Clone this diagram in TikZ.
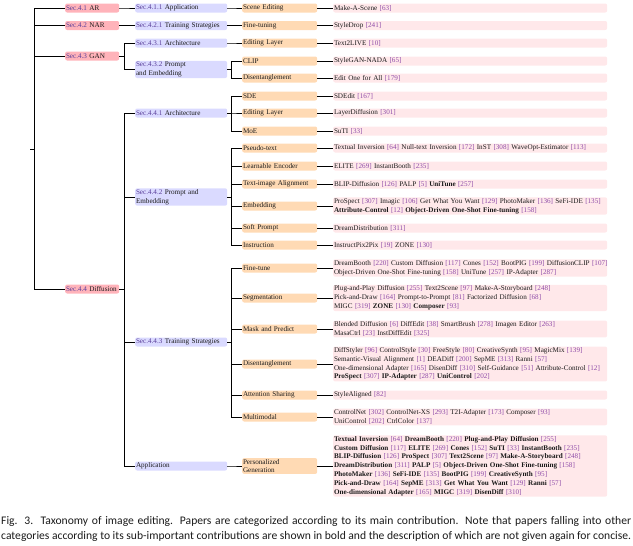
\documentclass[tikz,border=0pt]{standalone}
\usepackage{fontspec}
\setmainfont{Liberation Serif}
\newfontfamily\capfont{Carlito}
\usetikzlibrary{positioning}
\definecolor{lone}{HTML}{FFB3BA}
\definecolor{ltwo}{HTML}{DADAFF}
\definecolor{lthree}{HTML}{FFDAB4}
\definecolor{lfour}{HTML}{FFE8EA}
\definecolor{seccol}{HTML}{5A3F9A}
\definecolor{citecol}{HTML}{8E4BA8}
\definecolor{txt}{HTML}{1A1A1A}
\newcommand{\sect}[1]{{\color{seccol}#1}}
\newcommand{\cit}[1]{{\color{citecol}[#1]}}
\tikzset{
  box/.style={rectangle, rounded corners=2pt, inner xsep=0.8pt, inner ysep=1pt,
    minimum height=9pt, anchor=west, align=left, text=txt,
    font=\fontsize{7.15}{8.8}\selectfont},
  lvone/.style={box, fill=lone, text width=52.4pt},
  lvtwo/.style={box, fill=ltwo, text width=90.4pt},
  lvthree/.style={box, fill=lthree, text width=73.4pt},
  lvfour/.style={box, fill=lfour, text width=272.4pt},
  conn/.style={draw=black, line width=0.9pt},
  captext/.style={anchor=base west, inner sep=0pt, text=txt, font=\capfont\fontsize{11.6}{13}\selectfont}
}
\begin{document}
\begin{tikzpicture}[x=1pt,y=-1pt]
\useasboundingbox (0,0) rectangle (633,546);
\coordinate (root) at (30,149);
% level 1
\node[lvone] (a1) at (65,8) {\sect{Sec.4.1} AR};
\node[lvone] (a2) at (65,25.5) {\sect{Sec.4.2} NAR};
\node[lvone] (a3) at (65,56) {\sect{Sec.4.3} GAN};
\node[lvone] (a4) at (65,289) {\sect{Sec.4.4} Diffusion};
% level 2
\node[lvtwo] (b1) at (135,8) {\sect{Sec.4.1.1} Application};
\node[lvtwo] (b2) at (135,25.5) {\sect{Sec.4.2.1} Training Strategies};
\node[lvtwo] (b3) at (135,43) {\sect{Sec.4.3.1} Architecture};
\node[lvtwo] (b4) at (135,69.5) {\sect{Sec.4.3.2} Prompt\\and Embedding};
\node[lvtwo] (b5) at (135,113) {\sect{Sec.4.4.1} Architecture};
\node[lvtwo] (b6) at (135,197) {\sect{Sec.4.4.2} Prompt and\\Embedding};
\node[lvtwo] (b7) at (135,342) {\sect{Sec.4.4.3} Training Strategies};
\node[lvtwo] (b8) at (135,466) {Application};
% level 3
\node[lvthree] (c1) at (242,8) {Scene Editing};
\node[lvthree] (c2) at (242,25.5) {Fine-tuning};
\node[lvthree] (c3) at (242,43) {Editing Layer};
\node[lvthree] (c4) at (242,61) {CLIP};
\node[lvthree] (c5) at (242,78) {Disentanglement};
\node[lvthree] (c6) at (242,96) {SDE};
\node[lvthree] (c7) at (242,113) {Editing Layer};
\node[lvthree] (c8) at (242,131) {MoE};
\node[lvthree] (c9) at (242,148) {Pseudo-text};
\node[lvthree] (c10) at (242,166) {Learnable Encoder};
\node[lvthree] (c11) at (242,184) {Text-image Alignment};
\node[lvthree] (c12) at (242,206) {Embedding};
\node[lvthree] (c13) at (242,228) {Soft Prompt};
\node[lvthree] (c14) at (242,245) {Instruction};
\node[lvthree] (c15) at (242,268) {Fine-tune};
\node[lvthree] (c16) at (242,298) {Segmentation};
\node[lvthree] (c17) at (242,329) {Mask and Predict};
\node[lvthree] (c18) at (242,364) {Disentanglement};
\node[lvthree] (c19) at (242,395) {Attention Sharing};
\node[lvthree] (c20) at (242,417) {Multimodal};
\node[lvthree] (c21) at (242,466) {Personalized\\Generation};
% level 4
\node[lvfour] (d1) at (333,8) {Make-A-Scene \cit{63}};
\node[lvfour] (d2) at (333,25.5) {StyleDrop \cit{241}};
\node[lvfour] (d3) at (333,43) {Text2LIVE \cit{10}};
\node[lvfour] (d4) at (333,61) {StyleGAN-NADA \cit{65}};
\node[lvfour] (d5) at (333,78) {Edit One for All \cit{179}};
\node[lvfour] (d6) at (333,96) {SDEdit \cit{167}};
\node[lvfour] (d7) at (333,113) {LayerDiffusion \cit{301}};
\node[lvfour] (d8) at (333,131) {SuTI \cit{33}};
\node[lvfour] (d9) at (333,148) {Textual Inversion \cit{64} Null-text Inversion \cit{172} InST \cit{308} WaveOpt-Estimator \cit{113}};
\node[lvfour] (d10) at (333,166) {ELITE \cit{269} InstantBooth \cit{235}};
\node[lvfour] (d11) at (333,184) {BLIP-Diffusion \cit{126} PALP \cit{5} \textbf{UniTune} \cit{257}};
\node[lvfour] (d12) at (333,206) {\mbox{ProSpect \cit{307} Imagic \cit{106} Get What You Want \cit{129} PhotoMaker \cit{136} SeFi-IDE \cit{135}}\\\textbf{Attribute-Control} \cit{12} \textbf{Object-Driven One-Shot Fine-tuning} \cit{158}};
\node[lvfour] (d13) at (333,228) {DreamDistribution \cit{311}};
\node[lvfour] (d14) at (333,245) {InstructPix2Pix \cit{19} ZONE \cit{130}};
\node[lvfour] (d15) at (333,268) {\mbox{DreamBooth \cit{220} Custom Diffusion \cit{117} Cones \cit{152} BootPIG \cit{199} DiffusionCLIP \cit{107}}\\Object-Driven One-Shot Fine-tuning \cit{158} UniTune \cit{257} IP-Adapter \cit{287}};
\node[lvfour] (d16) at (333,298) {Plug-and-Play Diffusion \cit{255} Text2Scene \cit{97} Make-A-Storyboard \cit{248}\\Pick-and-Draw \cit{164} Prompt-to-Prompt \cit{81} Factorized Diffusion \cit{68}\\MIGC \cit{319} \textbf{ZONE} \cit{130} \textbf{Composer} \cit{93}};
\node[lvfour] (d17) at (333,329) {Blended Diffusion \cit{6} DiffEdit \cit{38} SmartBrush \cit{278} Imagen Editor \cit{263}\\MasaCtrl \cit{23} InstDiffEdit \cit{325}};
\node[lvfour] (d18) at (333,364) {\mbox{DiffStyler \cit{96} ControlStyle \cit{30} FreeStyle \cit{80} CreativeSynth \cit{95} MagicMix \cit{139}}\\Semantic-Visual Alignment \cit{1} DEADiff \cit{200} SepME \cit{313} Ranni \cit{57}\\\mbox{One-dimensional Adapter \cit{165} DisenDiff \cit{310} Self-Guidance \cit{51} Attribute-Control \cit{12}}\\\textbf{ProSpect} \cit{307} \textbf{IP-Adapter} \cit{287} \textbf{UniControl} \cit{202}};
\node[lvfour] (d19) at (333,395) {StyleAligned \cit{82}};
\node[lvfour] (d20) at (333,417) {ControlNet \cit{302} ControlNet-XS \cit{293} T2I-Adapter \cit{173} Composer \cit{93}\\UniControl \cit{202} CtrlColor \cit{137}};
\node[lvfour] (d21) at (333,466) {\textbf{Textual Inversion} \cit{64} \textbf{DreamBooth} \cit{220} \textbf{Plug-and-Play Diffusion} \cit{255}\\\textbf{Custom Diffusion} \cit{117} \textbf{ELITE} \cit{269} \textbf{Cones} \cit{152} \textbf{SuTI} \cit{33} \textbf{InstantBooth} \cit{235}\\\textbf{BLIP-Diffusion} \cit{126} \textbf{ProSpect} \cit{307} \textbf{Text2Scene} \cit{97} \textbf{Make-A-Storyboard} \cit{248}\\\textbf{DreamDistribution} \cit{311} \textbf{PALP} \cit{5} \textbf{Object-Driven One-Shot Fine-tuning} \cit{158}\\\textbf{PhotoMaker} \cit{136} \textbf{SeFi-IDE} \cit{135} \textbf{BootPIG} \cit{199} \textbf{CreativeSynth} \cit{95}\\\textbf{Pick-and-Draw} \cit{164} \textbf{SepME} \cit{313} \textbf{Get What You Want} \cit{129} \textbf{Ranni} \cit{57}\\\textbf{One-dimensional Adapter} \cit{165} \textbf{MIGC} \cit{319} \textbf{DisenDiff} \cit{310}};
% connectors root -> level 1
\foreach \c in {a1,a2,a3,a4} \draw[conn] (root) -- ++(4,0) |- (\c.west);
% level 1 -> level 2
\draw[conn] (a1.east) -- ++(5,0) |- (b1.west);
\draw[conn] (a2.east) -- ++(5,0) |- (b2.west);
\foreach \c in {b3,b4} \draw[conn] (a3.east) -- ++(5,0) |- (\c.west);
\foreach \c in {b5,b6,b7,b8} \draw[conn] (a4.east) -- ++(5,0) |- (\c.west);
% level 2 -> level 3
\draw[conn] (b1.east) -- ++(4,0) |- (c1.west);
\draw[conn] (b2.east) -- ++(4,0) |- (c2.west);
\draw[conn] (b3.east) -- ++(4,0) |- (c3.west);
\foreach \c in {c4,c5} \draw[conn] (b4.east) -- ++(4,0) |- (\c.west);
\foreach \c in {c6,c7,c8} \draw[conn] (b5.east) -- ++(4,0) |- (\c.west);
\foreach \c in {c9,c10,c11,c12,c13,c14} \draw[conn] (b6.east) -- ++(4,0) |- (\c.west);
\foreach \c in {c15,c16,c17,c18,c19,c20} \draw[conn] (b7.east) -- ++(4,0) |- (\c.west);
\draw[conn] (b8.east) -- ++(4,0) |- (c21.west);
% level 3 -> level 4
\foreach \i in {1,...,21} \draw[conn] (c\i.east) -- (d\i.west);
% caption
\node[captext] (cap1) at (1,524) {\hbox to 630pt{Fig. 3.\ \ Taxonomy of image editing. Papers are categorized according to its main contribution. Note that papers falling into other}};
\node[captext] (cap2) at (1,539.5) {\hbox to 630pt{categories according to its sub-important contributions are shown in bold and the description of which are not given again for concise.}};
\end{tikzpicture}
\end{document}
